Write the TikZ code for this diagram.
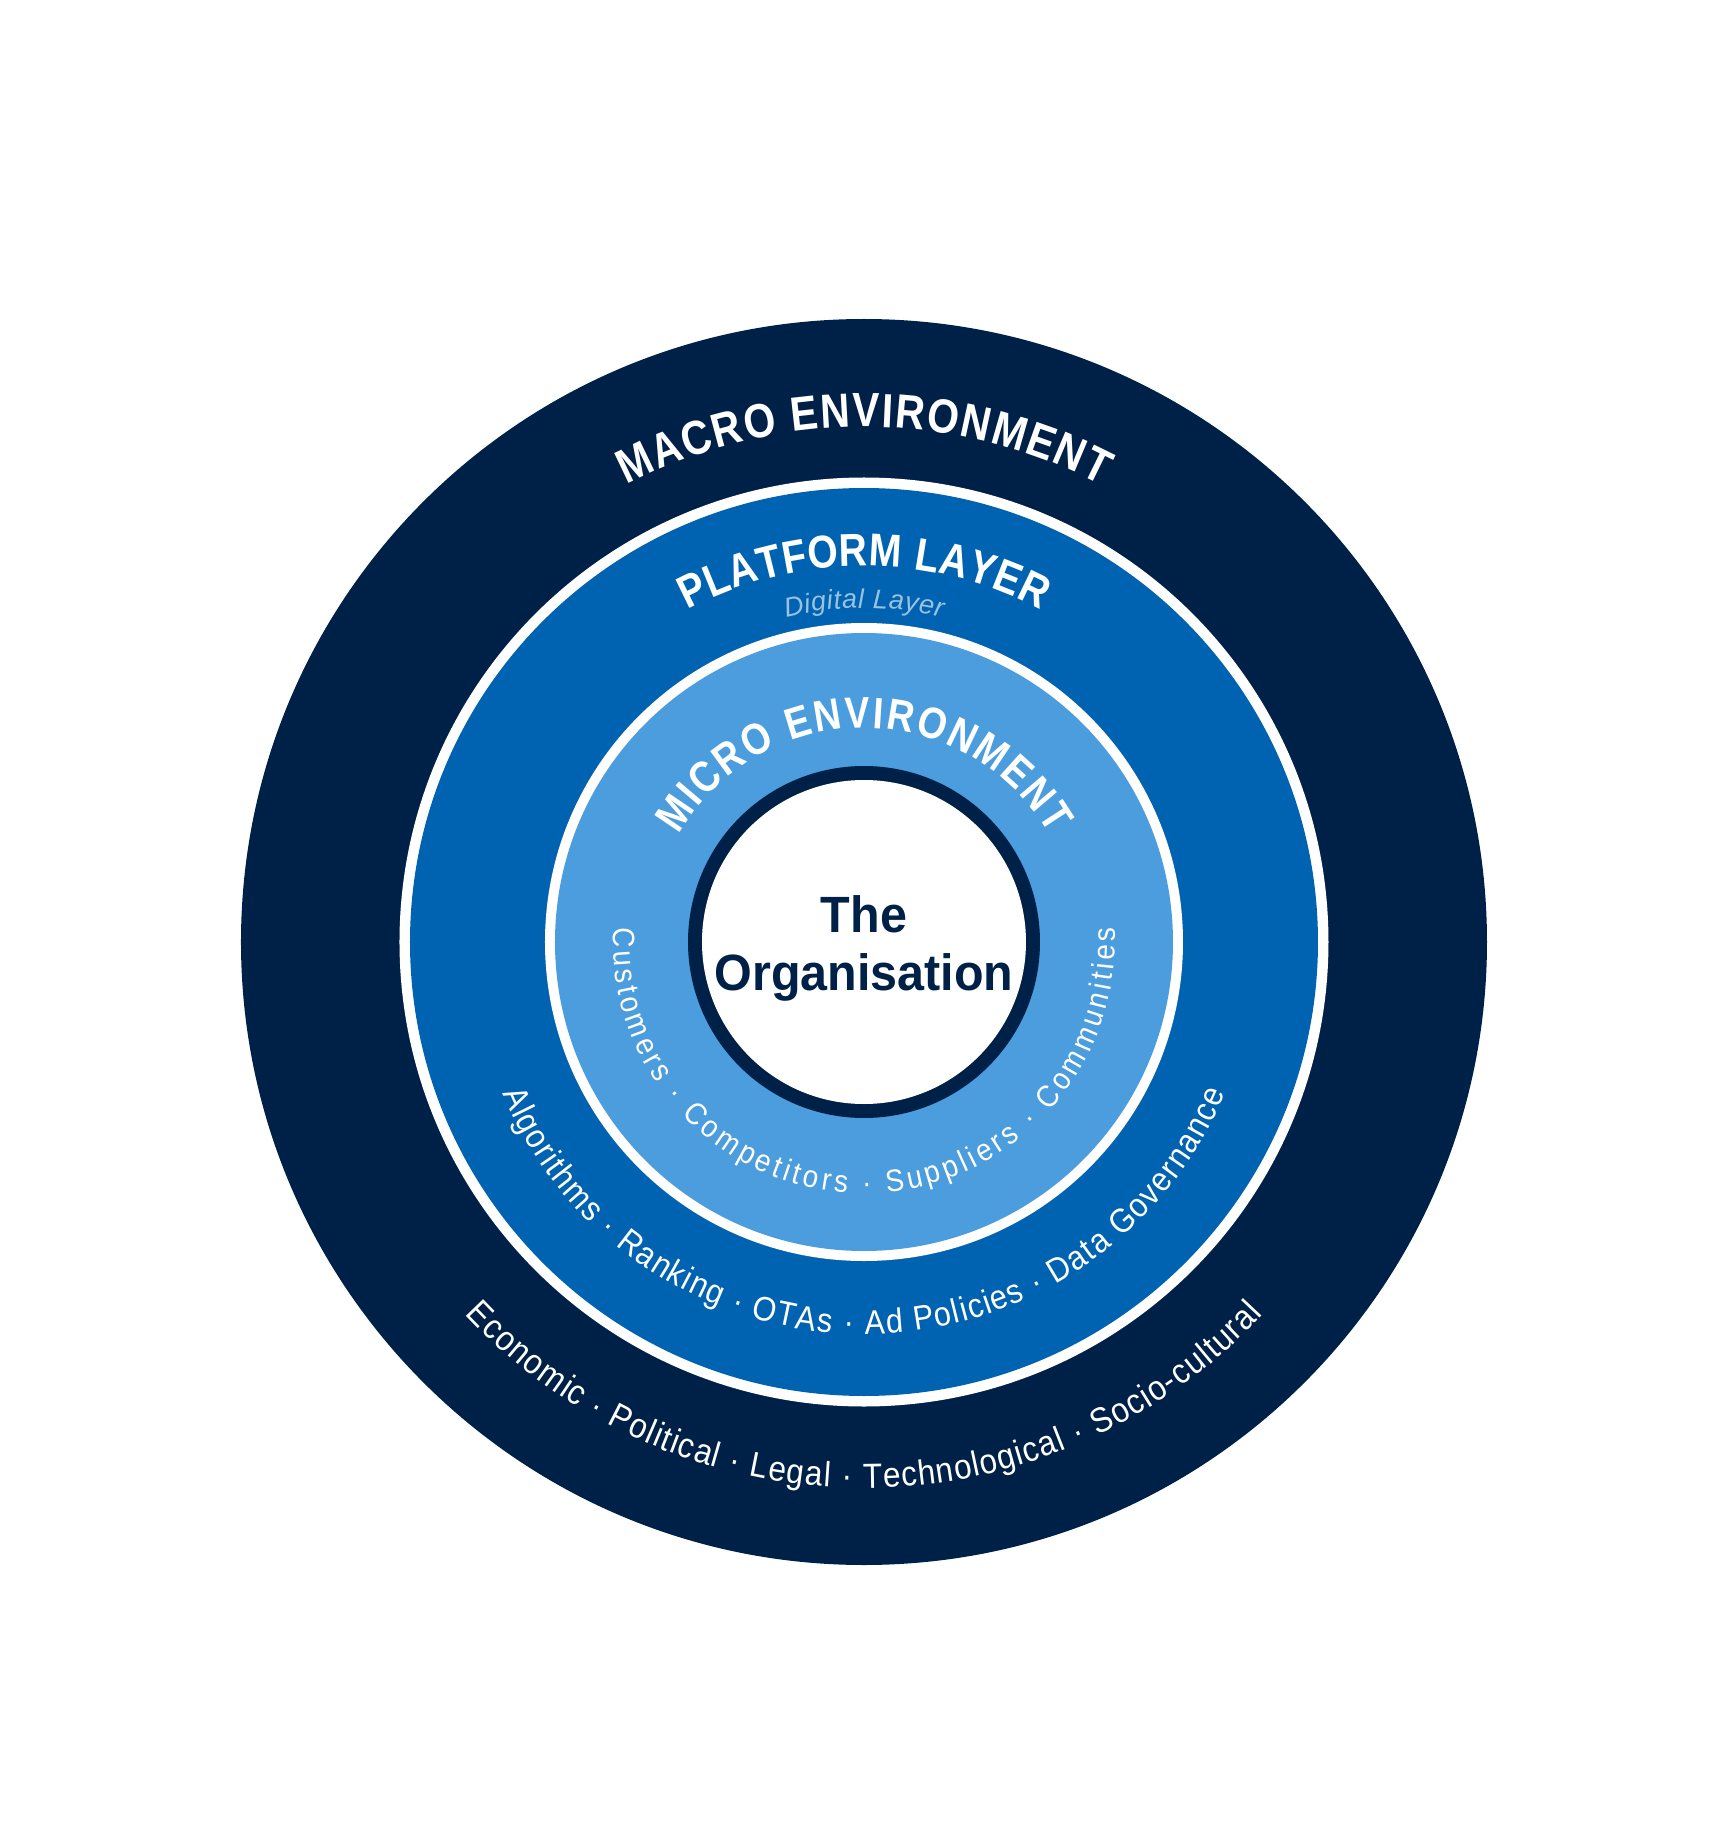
\documentclass[tikz,border=0pt]{standalone}
\usepackage{fontspec}
\setmainfont{Liberation Sans}
\newfontfamily\titlesans[FakeStretch=0.85]{Liberation Sans}
\newfontfamily\narrowsans[FakeStretch=0.9]{Liberation Sans}
\newfontfamily\orgsans[FakeStretch=0.95]{Liberation Sans}
\usetikzlibrary{decorations.text}

\definecolor{macroblue}{HTML}{002147}
\definecolor{platformblue}{HTML}{0063B1}
\definecolor{microblue}{HTML}{4C9DDE}
\definecolor{digitalgrey}{HTML}{99C1E0}

\newcommand{\ringtitle}[1]{\titlesans\fontsize{#1}{#1}\selectfont\bfseries\color{white}}
\newcommand{\ringitems}[1]{\narrowsans\fontsize{#1}{#1}\selectfont\color{white}}

\begin{document}
\begin{tikzpicture}[x=1pt, y=1pt]
    \useasboundingbox (-864,-882) rectangle (864,942);

    % Rings
    \fill[macroblue] (0,0) circle[radius=623];
    \fill[white] (0,0) circle[radius=464.5];
    \fill[platformblue] (0,0) circle[radius=454];
    \fill[white] (0,0) circle[radius=319];
    \fill[microblue] (0,0) circle[radius=309];
    \fill[macroblue] (0,0) circle[radius=176];
    \fill[white] (0,0) circle[radius=162];

    % Nodes
    \node[font=\orgsans\fontsize{51}{60}\selectfont\bfseries, text=macroblue, anchor=base] (The) at (0,10) {The};
    \node[font=\orgsans\fontsize{51}{60}\selectfont\bfseries, text=macroblue, anchor=base] (Organisation) at (0,-48) {Organisation};

    % Curved titles
        \path[decorate, decoration={text along path, text align=fit to path, text={|\ringtitle{48}|MACRO ENVIRONMENT}}] (117.5:515) arc[start angle=117.5, end angle=62.5, radius=515];
        \path[decorate, decoration={text along path, text align=fit to path, text={|\ringtitle{46}|PLATFORM LAYER}}] (118:376) arc[start angle=118, end angle=62, radius=376];
        \path[decorate, decoration={text along path, text align=fit to path, text={|\fontsize{27}{27}\selectfont\itshape\color{digitalgrey}|Digital Layer}}] (103.5:334) arc[start angle=103.5, end angle=76.5, radius=334];
        \path[decorate, decoration={text along path, text align=fit to path, text={|\ringtitle{44}|MICRO ENVIRONMENT}}] (150:214) arc[start angle=150, end angle=30, radius=214];

    % Curved lists
        \path[decorate, decoration={text along path, text align=fit to path, text={|\ringitems{31}|Customers · Competitors · Suppliers · Communities}}] (176.7:251) arc[start angle=176.7, end angle=363.3, radius=251];
        \path[decorate, decoration={text along path, text align=fit to path, text={|\ringitems{34}|Algorithms · Ranking · OTAs · Ad Policies · Data Governance}}] (202.7:392) arc[start angle=202.7, end angle=337.3, radius=392];
        \path[decorate, decoration={text along path, text align=fit to path, text={|\ringitems{35}|Economic · Political · Legal · Technological · Socio-cultural}}] (223:546) arc[start angle=223, end angle=317, radius=546];
\end{tikzpicture}
\end{document}
